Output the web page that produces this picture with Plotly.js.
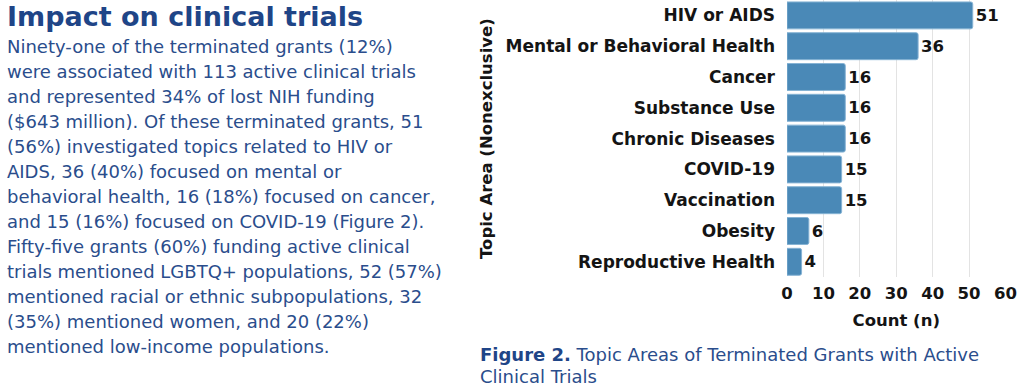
<!DOCTYPE html>
<html><head><meta charset="utf-8">
<script src="https://cdn.plot.ly/plotly-3.0.1.min.js"></script>
<style>html,body{margin:0;padding:0;background:#fff;}#chart{width:1024px;height:389px;}</style>
</head><body><div id="chart"></div>
<script>
// ---- data ----
const topics = ["HIV or AIDS","Mental or Behavioral Health","Cancer","Substance Use","Chronic Diseases","COVID-19","Vaccination","Obesity","Reproductive Health"];
const counts = [51,36,16,16,16,15,15,6,4];
const xTickVals = [0,10,20,30,40,50,60];
const xTitle = "Count (n)";
const yTitle = "Topic Area (Nonexclusive)";
const headingText = "Impact on clinical trials";
const paragraphLines = [
  "Ninety-one of the terminated grants (12%)",
  "were associated with 113 active clinical trials",
  "and represented 34% of lost NIH funding",
  "($643 million). Of these terminated grants, 51",
  "(56%) investigated topics related to HIV or",
  "AIDS, 36 (40%) focused on mental or",
  "behavioral health, 16 (18%) focused on cancer,",
  "and 15 (16%) focused on COVID-19 (Figure 2).",
  "Fifty-five grants (60%) funding active clinical",
  "trials mentioned LGBTQ+ populations, 52 (57%)",
  "mentioned racial or ethnic subpopulations, 32",
  "(35%) mentioned women, and 20 (22%)",
  "mentioned low-income populations."
];
const captionLabel = "Figure 2.";
const captionLines = ["Topic Areas of Terminated Grants with Active", "Clinical Trials"];

// ---- style ----
const W = 1024, H = 389;
const FONT = "DejaVu Sans, Verdana, sans-serif";
const navy = "#1f4587";
const textNavy = "#2a4d8c";
const ink = "#141414";
const px = v => v / W;
const py = v => 1 - v / H;

const trace = {
  type: "bar", orientation: "h",
  x: counts, y: topics,
  text: counts.map(String), textposition: "outside", cliponaxis: false,
  textfont: {family: FONT, size: 16.5, color: ink, weight: 700},
  marker: {color: "#4a89b7", line: {color: "#86b3d4", width: 1}, cornerradius: 2},
  hoverinfo: "skip"
};

const annotations = [];
annotations.push({
  text: "<b>" + headingText + "</b>", xref: "paper", yref: "paper",
  x: px(5), y: py(17), xanchor: "left", yanchor: "middle", showarrow: false,
  font: {family: FONT, size: 27, color: navy}
});
paragraphLines.forEach((line, i) => {
  annotations.push({
    text: line, xref: "paper", yref: "paper",
    x: px(5), y: py(46.8 + 25 * i), xanchor: "left", yanchor: "middle", showarrow: false,
    font: {family: FONT, size: 18, color: textNavy}
  });
});
captionLines.forEach((line, i) => {
  const t = i === 0 ? "<b><span style='color:" + navy + "'>" + captionLabel + "</span></b> " + line : line;
  annotations.push({
    text: t, xref: "paper", yref: "paper",
    x: px(478), y: py(354 + 22.5 * i), xanchor: "left", yanchor: "middle", showarrow: false,
    font: {family: FONT, size: 18, color: textNavy}
  });
});

const layout = {
  width: W, height: H,
  margin: {l: 0, r: 0, t: 0, b: 0, pad: 0},
  paper_bgcolor: "#fff", plot_bgcolor: "#fff",
  showlegend: false, bargap: 0.125,
  font: {family: FONT, color: ink},
  xaxis: {
    domain: [px(787), px(1005.5)], range: [0, 60], tickvals: xTickVals,
    showgrid: true, gridcolor: "#e3e3e3", gridwidth: 1, zeroline: false, showline: false,
    ticks: "", ticklabelstandoff: 4,
    tickfont: {family: FONT, size: 16.5, color: ink, weight: 700},
    title: {text: xTitle, standoff: 12, font: {family: FONT, size: 16.5, color: ink, weight: 700}},
    fixedrange: true
  },
  yaxis: {
    domain: [1 - 277.2 / H, 1], type: "category", autorange: "reversed",
    showgrid: false, zeroline: false, showline: false,
    ticks: "", ticklabelstandoff: 11,
    tickfont: {family: FONT, size: 17, color: ink, weight: 700},
    title: {text: yTitle, standoff: 8, font: {family: FONT, size: 16.5, color: ink, weight: 700}},
    fixedrange: true
  },
  annotations: annotations
};

Plotly.newPlot("chart", [trace], layout, {displayModeBar: false, staticPlot: true});
</script>
</body></html>
